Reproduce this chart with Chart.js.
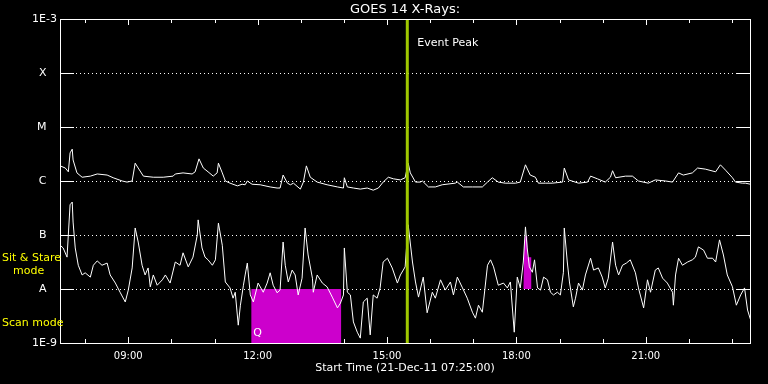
<!DOCTYPE html>
<html>
<head>
<meta charset="utf-8">
<title>GOES 14 X-Rays</title>
<script src="https://cdn.jsdelivr.net/npm/chart.js@4"></script>
<style>
    html, body { margin: 0; padding: 0; background: #000; }
</style>
</head>
<body>
<canvas id="xrayChart" width="768" height="384"></canvas>
<script>
/* GOES 14 X-ray flux, 21-Dec-11 — values are log10(W/m^2), times are decimal hours UT */

// Long channel (1-8 A), the upper trace
var longTimes = [7.42,7.54,7.61,7.65,7.70,7.72,7.81,7.93,8.12,8.28,8.51,8.65,8.86,8.97,9.09,9.16,9.23,9.35,9.58,9.81,
    10.04,10.09,10.27,10.48,10.55,10.64,10.74,10.85,10.97,11.06,11.09,11.18,11.25,11.36,11.53,11.64,11.71,11.76,11.87,12.06,
    12.29,12.45,12.52,12.59,12.69,12.76,12.83,12.99,13.06,13.13,13.22,13.38,13.61,13.85,13.99,14.01,14.08,14.22,14.38,14.54,
    14.68,14.80,14.91,15.03,15.15,15.31,15.42,15.49,15.54,15.66,15.77,15.82,15.96,16.12,16.28,16.58,16.63,16.77,16.98,17.21,
    17.33,17.44,17.58,17.74,17.98,18.09,18.21,18.32,18.44,18.51,18.67,18.83,19.07,19.11,19.21,19.44,19.65,19.72,19.88,20.06,
    20.18,20.23,20.30,20.53,20.69,20.83,21.06,21.22,21.46,21.62,21.76,21.87,22.08,22.20,22.38,22.62,22.73,22.85,23.01,23.08,
    23.24,23.31,23.43];
var longFlux = [-5.72,-5.76,-5.83,-5.48,-5.41,-5.61,-5.85,-5.93,-5.91,-5.87,-5.89,-5.94,-6.00,-6.02,-6.00,-5.67,-5.76,-5.91,-5.93,-5.93,
    -5.91,-5.87,-5.85,-5.87,-5.83,-5.59,-5.76,-5.83,-5.91,-5.85,-5.67,-5.85,-6.00,-6.04,-6.09,-6.06,-6.07,-6.00,-6.06,-6.07,
    -6.11,-6.13,-6.13,-5.89,-6.04,-6.07,-6.04,-6.15,-6.02,-5.72,-5.93,-6.02,-6.07,-6.11,-6.13,-5.94,-6.11,-6.13,-6.15,-6.13,
    -6.17,-6.13,-6.02,-5.93,-5.96,-5.98,-5.94,-5.67,-5.85,-6.02,-6.02,-6.00,-6.11,-6.11,-6.07,-6.04,-6.02,-6.11,-6.11,-6.11,
    -6.02,-5.94,-6.02,-6.04,-6.04,-6.02,-5.70,-5.89,-5.93,-6.04,-6.04,-6.04,-6.02,-5.76,-5.98,-6.04,-6.02,-5.91,-5.96,-6.02,
    -5.93,-5.81,-5.94,-5.91,-5.91,-6.00,-6.04,-5.98,-6.00,-6.02,-5.85,-5.89,-5.85,-5.76,-5.78,-5.83,-5.70,-5.80,-5.94,-6.02,
    -6.04,-6.04,-6.06];

// Short channel (0.5-4 A), the lower trace
var shortTimes = [7.42,7.49,7.58,7.65,7.70,7.72,7.77,7.84,7.93,8.00,8.12,8.19,8.28,8.39,8.51,8.58,8.70,8.81,8.93,9.00,
    9.09,9.16,9.23,9.32,9.39,9.46,9.51,9.58,9.67,9.79,9.86,9.97,10.09,10.20,10.27,10.39,10.50,10.60,10.62,10.71,
    10.78,10.85,10.95,11.02,11.09,11.18,11.25,11.36,11.43,11.48,11.55,11.60,11.67,11.71,11.76,11.83,11.90,12.01,12.13,12.22,
    12.29,12.36,12.45,12.52,12.59,12.64,12.71,12.80,12.87,12.94,13.03,13.10,13.17,13.27,13.29,13.38,13.50,13.61,13.73,13.85,
    13.92,13.99,14.01,14.08,14.15,14.22,14.31,14.38,14.45,14.54,14.61,14.68,14.77,14.84,14.91,15.01,15.12,15.24,15.31,15.42,
    15.49,15.59,15.66,15.73,15.84,15.93,16.05,16.12,16.24,16.35,16.47,16.54,16.63,16.75,16.86,16.98,17.05,17.12,17.21,17.33,
    17.40,17.47,17.58,17.70,17.79,17.86,17.95,18.02,18.09,18.16,18.21,18.25,18.30,18.37,18.42,18.49,18.56,18.63,18.72,18.79,
    18.86,18.95,19.02,19.09,19.11,19.18,19.23,19.32,19.37,19.44,19.53,19.60,19.72,19.79,19.90,19.99,20.06,20.13,20.23,20.30,
    20.37,20.46,20.55,20.64,20.76,20.83,20.95,21.04,21.11,21.22,21.29,21.39,21.50,21.62,21.64,21.69,21.76,21.85,21.97,22.08,
    22.15,22.22,22.34,22.43,22.55,22.62,22.71,22.80,22.89,23.01,23.10,23.20,23.29,23.36,23.43];
var shortFlux = [-7.19,-7.24,-7.41,-6.44,-6.39,-6.76,-7.24,-7.56,-7.74,-7.70,-7.78,-7.56,-7.48,-7.56,-7.52,-7.74,-7.89,-8.06,-8.24,-8.02,
    -7.61,-6.87,-7.13,-7.56,-7.74,-7.61,-7.96,-7.74,-7.93,-7.83,-7.74,-7.89,-7.50,-7.56,-7.33,-7.59,-7.41,-7.00,-6.72,-7.24,
    -7.41,-7.46,-7.56,-7.46,-6.78,-7.19,-7.87,-7.98,-8.17,-8.06,-8.67,-8.30,-7.93,-7.74,-7.52,-8.11,-8.24,-7.89,-8.06,-7.89,
    -7.70,-7.93,-8.07,-8.02,-7.13,-7.56,-7.87,-7.65,-7.74,-8.11,-7.80,-6.87,-7.37,-7.80,-8.06,-7.74,-7.89,-7.96,-8.15,-8.35,
    -8.26,-8.11,-7.24,-8.06,-8.11,-8.61,-8.80,-8.91,-8.24,-8.17,-8.85,-8.11,-8.17,-7.98,-7.50,-7.43,-7.61,-7.89,-7.74,-7.59,
    -6.81,-7.50,-7.87,-8.15,-7.78,-8.44,-8.06,-8.17,-7.83,-8.02,-7.87,-8.11,-7.78,-7.98,-8.17,-8.43,-8.54,-8.30,-8.43,-7.56,
    -7.46,-7.59,-7.93,-7.89,-7.98,-7.87,-8.80,-7.78,-7.98,-7.50,-6.85,-7.24,-7.59,-7.69,-7.46,-7.98,-8.02,-7.78,-7.83,-8.06,
    -8.11,-8.06,-8.11,-7.69,-6.87,-7.50,-7.87,-8.33,-8.17,-7.89,-8.02,-7.74,-7.43,-7.65,-7.61,-7.78,-7.98,-7.80,-7.13,-7.56,
    -7.74,-7.56,-7.52,-7.46,-7.70,-7.98,-8.35,-7.83,-8.06,-7.65,-7.61,-7.80,-7.89,-8.06,-8.30,-7.74,-7.43,-7.56,-7.50,-7.46,
    -7.41,-7.22,-7.28,-7.43,-7.43,-7.50,-7.09,-7.37,-7.74,-7.96,-8.30,-8.11,-7.98,-8.39,-8.57];

// Scan mode interval (magenta block) and the sit & stare patch near 18:10
var scanTimes  = [11.85, 13.94];
var scanLevel  = [-8, -8];
var stareTimes = [18.16, 18.18, 18.21, 18.25, 18.26, 18.35];
var stareFlux  = [-8.00, -7.19, -7.02, -7.02, -7.41, -7.41];

var peakTime   = 15.47;   // 15:28 UT
var startHour  = 7 + 25 / 60;
var endHour    = startHour + 16;

var classTicks  = [-9, -8, -7, -6, -5, -4, -3];
var classLabels = ['1E-9', 'A   ', 'B   ', 'C   ', 'M   ', 'X   ', '1E-3'];
var hourTicks   = [8, 9, 10, 11, 12, 13, 14, 15, 16, 17, 18, 19, 20, 21, 22, 23];

(function () {
    'use strict';

    var FONT    = 'DejaVu Sans';
    var magenta = '#cc00cc';
    var peakCol = '#a0c800';

    function pts(xs, ys) {
        var out = [];
        for (var i = 0; i < Math.min(xs.length, ys.length); i++) out.push({ x: xs[i], y: ys[i] });
        return out;
    }

    // frame, inward ticks, dotted class lines and the free-floating labels
    var frame = {
        id: 'frame',
        beforeDatasetsDraw: function (chart) {
            var ctx = chart.ctx, a = chart.chartArea;
            var xs = chart.scales.x, ys = chart.scales.y;
            ctx.save();
            ctx.strokeStyle = '#fff';
            ctx.lineWidth = 1;
            classTicks.slice(1, -1).forEach(function (v) {
                var py = Math.round(ys.getPixelForValue(v)) + 0.5;
                ctx.setLineDash([1, 3]);
                ctx.beginPath();
                ctx.moveTo(a.left + 16, py);
                ctx.lineTo(a.right - 14, py);
                ctx.stroke();
                ctx.setLineDash([]);
                ctx.beginPath();
                ctx.moveTo(a.left, py);  ctx.lineTo(a.left + 14, py);
                ctx.moveTo(a.right - 14, py); ctx.lineTo(a.right, py);
                ctx.stroke();
            });
            hourTicks.forEach(function (h) {
                var px = Math.round(xs.getPixelForValue(h)) + 0.5;
                var len = h % 3 === 0 ? 6 : 4;
                ctx.beginPath();
                ctx.moveTo(px, a.top);    ctx.lineTo(px, a.top + len);
                ctx.moveTo(px, a.bottom); ctx.lineTo(px, a.bottom - len);
                ctx.stroke();
            });
            ctx.restore();
        },
        afterDraw: function (chart) {
            var ctx = chart.ctx, a = chart.chartArea;
            var xs = chart.scales.x;
            ctx.save();
            ctx.strokeStyle = '#fff';
            ctx.lineWidth = 1;
            ctx.strokeRect(Math.round(a.left) + 0.5, Math.round(a.top) + 0.5,
                           Math.round(a.right - a.left), Math.round(a.bottom - a.top));

            ctx.font = '11px "' + FONT + '"';
            ctx.textBaseline = 'middle';
            ctx.textAlign = 'left';
            ctx.fillStyle = '#fff';
            ctx.fillText('Event Peak', xs.getPixelForValue(peakTime) + 10, a.top + 24);
            // quality flag glyph at the start of the scan block
            ctx.fillText('Q', xs.getPixelForValue(scanTimes[0]) + 2, a.bottom - 10);

            ctx.fillStyle = '#ffff00';
            ctx.fillText('Sit & Stare', 2, 258);
            ctx.fillText('mode', 13, 271);
            ctx.fillText('Scan mode', 2, 323);
            ctx.restore();
        }
    };

    new Chart(document.getElementById('xrayChart'), {
        type: 'line',
        data: {
            datasets: [
                {
                    data: pts([peakTime, peakTime], [-9, -3]),
                    borderColor: peakCol,
                    borderWidth: 3,
                    order: 0
                },
                {
                    data: pts(longTimes, longFlux),
                    borderColor: '#ffffff',
                    borderWidth: 1,
                    order: 1
                },
                {
                    data: pts(shortTimes, shortFlux),
                    borderColor: '#ffffff',
                    borderWidth: 1,
                    order: 1
                },
                {
                    data: pts(scanTimes, scanLevel),
                    borderWidth: 0,
                    borderColor: magenta,
                    backgroundColor: magenta,
                    fill: 'start',
                    order: 2
                },
                {
                    data: pts(stareTimes, stareFlux),
                    borderWidth: 0,
                    borderColor: magenta,
                    backgroundColor: magenta,
                    fill: { value: -8 },
                    order: 2
                }
            ]
        },
        options: {
            responsive: false,
            animation: false,
            devicePixelRatio: 1,
            layout: { padding: { left: 0, right: 18, top: 0, bottom: 0 } },
            elements: {
                point: { radius: 0, hoverRadius: 0 },
                line:  { tension: 0 }
            },
            plugins: {
                legend:  { display: false },
                tooltip: { enabled: false },
                title: {
                    display: true,
                    fullSize: false,
                    text: 'GOES 14 X-Rays:',
                    color: '#ffffff',
                    font: { family: FONT, size: 13, weight: 'normal', lineHeight: 1 },
                    padding: { top: 3, bottom: 3 }
                }
            },
            scales: {
                x: {
                    type: 'linear',
                    min: startHour,
                    max: endHour,
                    afterBuildTicks: function (s) {
                        s.ticks = hourTicks.map(function (h) { return { value: h }; });
                    },
                    afterFit: function (s) { s.height = 41; },
                    grid:   { display: false, drawTicks: false },
                    border: { display: false },
                    ticks: {
                        autoSkip: false,
                        maxRotation: 0,
                        padding: 7,
                        color: '#ffffff',
                        font: { family: FONT, size: 10 },
                        callback: function (v) {
                            if (v % 3 !== 0) return '';
                            return (v < 10 ? '0' : '') + v + ':00';
                        }
                    },
                    title: {
                        display: true,
                        text: 'Start Time (21-Dec-11 07:25:00)',
                        color: '#ffffff',
                        font: { family: FONT, size: 11, lineHeight: 1 },
                        padding: { top: 0, bottom: 10 }
                    }
                },
                y: {
                    type: 'linear',
                    min: -9,
                    max: -3,
                    afterBuildTicks: function (s) {
                        s.ticks = classTicks.map(function (v) { return { value: v }; });
                    },
                    afterFit: function (s) { s.width = 60; },
                    grid:   { display: false, drawTicks: false },
                    border: { display: false },
                    ticks: {
                        autoSkip: false,
                        padding: 3,
                        color: '#ffffff',
                        font: { family: FONT, size: 11 },
                        callback: function (v) {
                            var i = classTicks.indexOf(v);
                            return i < 0 ? '' : classLabels[i];
                        }
                    }
                }
            }
        },
        plugins: [frame]
    });
})();
</script>
</body>
</html>
